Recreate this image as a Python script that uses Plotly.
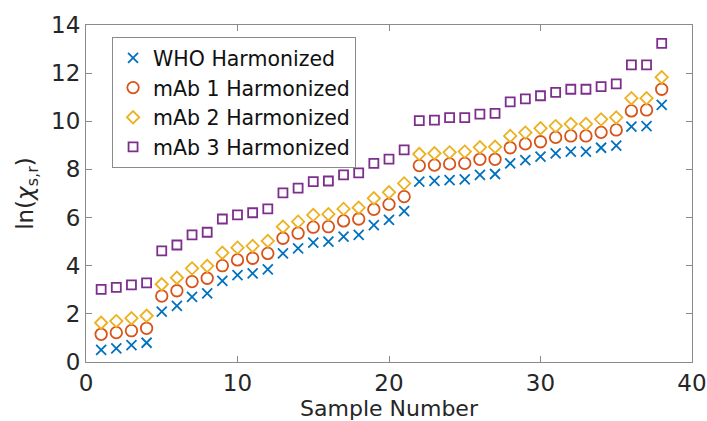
import plotly.graph_objects as go

samples = list(range(1, 39))
who = [0.50, 0.57, 0.70, 0.80, 2.09, 2.33, 2.71, 2.85, 3.37, 3.61, 3.68, 3.85, 4.51, 4.72,
       4.96, 5.00, 5.21, 5.28, 5.69, 5.90, 6.27, 7.49, 7.52, 7.56, 7.59, 7.77, 7.81,
       8.25, 8.39, 8.53, 8.67, 8.74, 8.74, 8.90, 8.99, 9.78, 9.80, 10.68]
mab1 = [1.15, 1.22, 1.30, 1.40, 2.74, 2.96, 3.34, 3.48, 4.00, 4.24, 4.31, 4.51, 5.14, 5.35,
        5.60, 5.62, 5.86, 5.94, 6.34, 6.55, 6.87, 8.16, 8.18, 8.23, 8.25, 8.42, 8.42,
        8.90, 9.06, 9.15, 9.33, 9.39, 9.39, 9.54, 9.64, 10.43, 10.47, 11.33]
mab2 = [1.63, 1.70, 1.82, 1.92, 3.23, 3.50, 3.89, 3.99, 4.54, 4.75, 4.82, 5.03, 5.62, 5.83,
        6.11, 6.14, 6.36, 6.41, 6.80, 7.05, 7.42, 8.64, 8.67, 8.71, 8.74, 8.92, 8.94,
        9.39, 9.53, 9.71, 9.80, 9.89, 9.89, 10.08, 10.16, 10.96, 10.96, 11.83]
mab3 = [3.02, 3.10, 3.20, 3.29, 4.62, 4.86, 5.28, 5.39, 5.94, 6.11, 6.20, 6.36, 7.03, 7.22,
        7.49, 7.52, 7.77, 7.86, 8.25, 8.43, 8.81, 10.03, 10.05, 10.15, 10.15, 10.30, 10.33,
        10.81, 10.93, 11.06, 11.20, 11.33, 11.33, 11.44, 11.55, 12.34, 12.34, 13.24]

series = [
    ("WHO Harmonized", who, "x-thin-open", "#0072BD", 10),
    ("mAb 1 Harmonized", mab1, "circle-open", "#D95319", 11.5),
    ("mAb 2 Harmonized", mab2, "diamond-open", "#EDB120", 9.5),
    ("mAb 3 Harmonized", mab3, "square-open", "#7E2F8E", 9),
]

fig = go.Figure()
for name, vals, sym, col, sz in series:
    fig.add_trace(go.Scatter(
        x=samples, y=vals, mode="markers", name=name,
        marker=dict(symbol=sym, size=sz, color=col, line=dict(color=col, width=1.8)),
    ))

axis_common = dict(
    showline=True, linecolor="#8a8a8a", linewidth=1.2, mirror="ticks",
    ticks="inside", ticklen=6, tickcolor="#8a8a8a", tickwidth=1,
    showgrid=False, zeroline=False, automargin=False,
    tickfont=dict(family="DejaVu Sans", size=23, color="#262626"),
)

fig.update_layout(
    width=707, height=421,
    margin=dict(l=86, r=15, t=25, b=59, autoexpand=False),
    paper_bgcolor="white", plot_bgcolor="white",
    font=dict(family="DejaVu Sans", color="#262626"),
    xaxis=dict(range=[0, 40], tickvals=[0, 10, 20, 30, 40],
               title=dict(text="Sample Number", font=dict(size=22), standoff=0),
               **axis_common),
    yaxis=dict(range=[0, 14], tickvals=[0, 2, 4, 6, 8, 10, 12, 14],
               title=dict(text="ln(<i>χ</i><sub>s,r</sub>)", font=dict(size=23), standoff=10),
               **axis_common),
    legend=dict(x=0.043, y=0.964, xanchor="left", yanchor="top",
                bgcolor="white", bordercolor="#8a8a8a", borderwidth=1,
                font=dict(family="DejaVu Sans", size=20.5, color="#111111"),
                tracegroupgap=0, itemwidth=30),
    showlegend=True,
)

fig.write_html("out.html", config={"displayModeBar": False},
               post_script="document.body.style.margin='0';")
